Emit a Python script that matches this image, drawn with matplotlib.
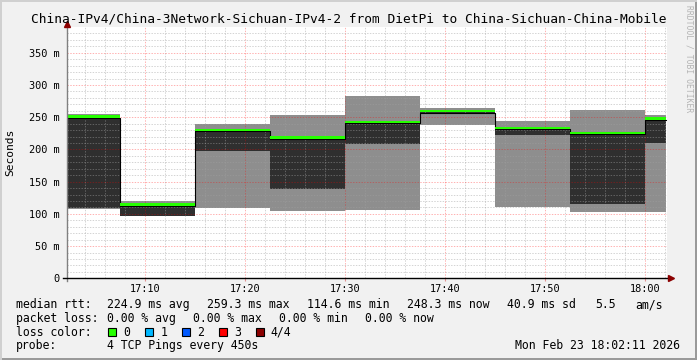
import matplotlib
matplotlib.use("Agg")
import matplotlib.pyplot as plt
from matplotlib.patches import Rectangle
import numpy as np

"""
    SmokePing style graph: last hour, 4 TCP pings every 450 s
"""

W, H = 697, 360

# limites de cada paso (minutos desde las 17:00), pasos de 450 s
step_edges = [2.2, 7.5, 15.0, 22.5, 30.0, 37.5, 45.0, 52.5, 60.0, 62.1]

# humo: ping mas bajo, segundo ping, mediana y ping mas alto (ms)
ping_min = [108.2, 97.4, 109.8, 105.1, 106.7, 238.4, 110.9, 103.1, 103.1]
ping_low = [109.3, 97.4, 196.9, 139.3, 208.4, 256.0, 221.8, 116.0, 209.3]
median_rtt = [250.9, 114.6, 229.9, 218.5, 242.8, 259.3, 233.0, 225.5, 248.3]
ping_max = [255.1, 119.8, 240.0, 254.0, 283.5, 264.4, 244.6, 261.7, 254.0]

x_ticks = [10, 20, 30, 40, 50, 60]
x_labels = ["17:10", "17:20", "17:30", "17:40", "17:50", "18:00"]
y_ticks = [0, 50, 100, 150, 200, 250, 300, 350]
y_labels = ["0", "50 m", "100 m", "150 m", "200 m", "250 m", "300 m", "350 m"]

title = "China-IPv4/China-3Network-Sichuan-IPv4-2 from DietPi to China-Sichuan-China-Mobile"

rtt_stats = ["224.9 ms avg", "259.3 ms max", "114.6 ms min", "248.3 ms now", "40.9 ms sd", "5.5", "am/s"]
loss_stats = ["0.00 % avg", "0.00 % max", "0.00 % min", "0.00 % now"]
loss_labels = ["0", "1", "2", "3", "4/4"]
loss_colors = ["#26ff00", "#00b8ff", "#0059ff", "#ff0000", "#8b0000"]
probe_text = "4 TCP Pings every 450s"
stamp = "Mon Feb 23 18:02:11 2026"

MONO = "DejaVu Sans Mono"
plt.rcParams['font.family'] = [MONO]


def px(x, y):
    return x / W, 1 - y / H


def extend(v):
    v = list(v)
    return np.array(v + [v[-1]])


fig = plt.figure(figsize=(W / 100, H / 100), dpi=100)
fig.patch.set_facecolor("#f1f1f1")

left, bottom = px(66.7, 278.3)
ax = fig.add_axes([left, bottom, 600 / W, (278.3 - 26.7) / H])
ax.set_facecolor("white")

x = np.array(step_edges)
med = extend(median_rtt)

ax.fill_between(x, extend(ping_min), extend(ping_max), step="post",
                color="#8e8e8e", lw=0, zorder=1)
ax.fill_between(x, extend(ping_low), med, step="post",
                color="#2f2f2f", lw=0, zorder=2)

# rejilla
ax.set_xlim(2.2, 62.2)
ax.set_ylim(0, 390.5)
ax.set_xticks(x_ticks, x_labels)
ax.set_yticks(y_ticks, y_labels)
ax.set_xticks([m for m in range(4, 63, 2) if m % 10 != 0], minor=True)
ax.set_yticks([v for v in range(10, 390, 10) if v % 50 != 0], minor=True)
ax.set_axisbelow(False)
ax.grid(which="minor", color="#a0a0a0", alpha=0.45, lw=0.72,
        linestyle=(0, (1.4, 1.4)), zorder=3)
ax.grid(which="major", color="#ff0000", alpha=0.3, lw=0.72,
        linestyle=(0, (1.4, 1.4)), zorder=3)

# mediana
ax.step(x, med - 2.0, where="post", color="black", lw=0.8, zorder=4)
ax.fill_between(x, med - 1.9, med + 1.9, step="post",
                color=loss_colors[0], lw=0, zorder=5)

for s in ax.spines.values():
    s.set_visible(False)
ax.tick_params(axis="x", which="major", length=2, color="#e09090",
               labelsize=7.4, pad=2)
ax.tick_params(axis="y", which="major", length=0, labelsize=7.4, pad=5)
ax.tick_params(which="minor", length=0)

# ejes con flechas
ax.plot([0, 0], [-0.012, 1.0], transform=ax.transAxes, color="#808080",
        lw=1, clip_on=False, zorder=6)
ax.plot([-0.006, 1.0], [0, 0], transform=ax.transAxes, color="black",
        lw=1, clip_on=False, zorder=6)
ax.plot([0], [1.01], marker="^", ms=4, color="#8b0000", transform=ax.transAxes,
        clip_on=False, zorder=7)
ax.plot([1.007], [0], marker=">", ms=4, color="#8b0000", transform=ax.transAxes,
        clip_on=False, zorder=7)

fig.text(*px(348.5, 19), title, ha="center", va="center", fontsize=9.3)
fig.text(*px(10.5, 152), "Seconds", rotation=90, ha="center", va="center",
         fontsize=8.1)
fig.text(*px(688.5, 59), "RRDTOOL / TOBI OETIKER", rotation=270, ha="center",
         va="center", fontsize=5.8, color="#b4b4b4")

# leyenda
fs = 8.3
fig.text(*px(16, 304.7), "median rtt:", va="center", fontsize=fs)
for xp, t in zip([107.3, 207.3, 307.3, 407.3, 506.7, 595.0, 635.7], rtt_stats):
    fig.text(*px(xp, 304.7), t, va="center", fontsize=fs)

fig.text(*px(16, 318.3), "packet loss:", va="center", fontsize=fs)
for xp, t in zip([107.3, 193.3, 279.3, 365.3], loss_stats):
    fig.text(*px(xp, 318.3), t, va="center", fontsize=fs)

fig.text(*px(16, 332.3), "loss color:", va="center", fontsize=fs)
for i, (lab, col) in enumerate(zip(loss_labels, loss_colors)):
    x0 = 108.3 + i * 36.9
    fig.patches.append(Rectangle(px(x0, 336.3), 7.8 / W, 8.2 / H,
                                 transform=fig.transFigure, facecolor=col,
                                 edgecolor="black", lw=0.8))
    fig.text(*px(x0 + 15, 332.3), lab, va="center", fontsize=fs)

fig.text(*px(16, 345.7), "probe:", va="center", fontsize=fs)
fig.text(*px(107.3, 345.7), probe_text, va="center", fontsize=fs)
fig.text(*px(680, 345.7), stamp, va="center", ha="right", fontsize=fs)

# marco
fig.patches.append(Rectangle((0, 0), 1, 2 / H, transform=fig.transFigure,
                             color="#9a9a9a", lw=0))
fig.patches.append(Rectangle((1 - 2 / W, 0), 2 / W, 1, transform=fig.transFigure,
                             color="#9a9a9a", lw=0))
fig.patches.append(Rectangle((0, 1 - 2 / H), 1, 2 / H, transform=fig.transFigure,
                             color="#d0d0d0", lw=0))
fig.patches.append(Rectangle((0, 0), 2 / W, 1, transform=fig.transFigure,
                             color="#d0d0d0", lw=0))

fig.savefig("out.png", dpi=100, facecolor=fig.get_facecolor())
